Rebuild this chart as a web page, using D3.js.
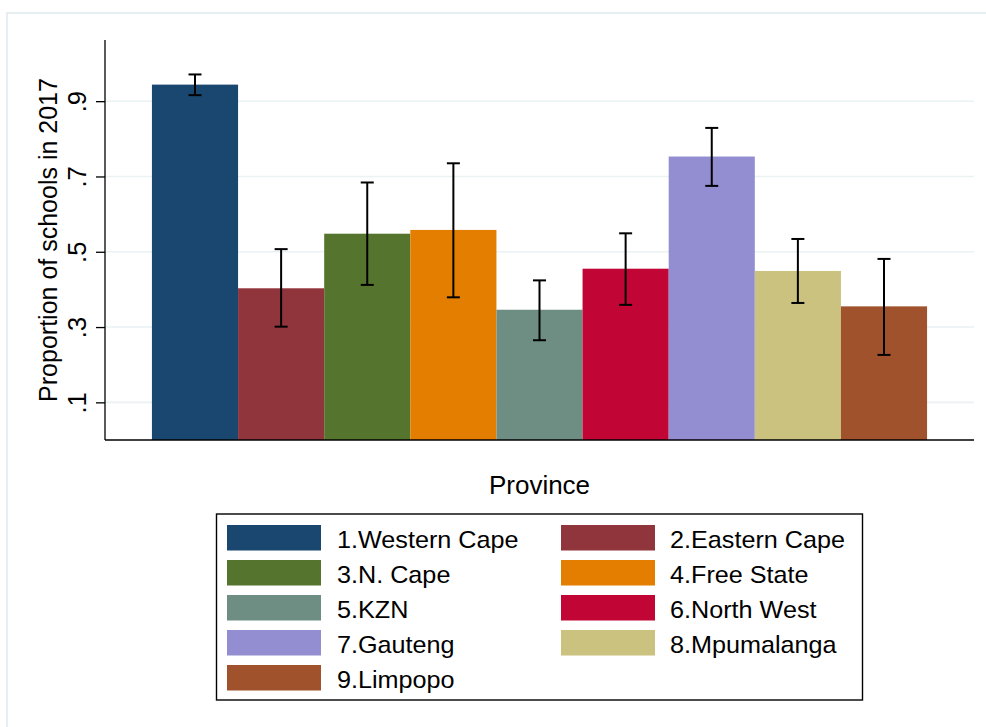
<!DOCTYPE html>
<html>
<head>
<meta charset="utf-8">
<script src="https://cdn.jsdelivr.net/npm/d3@7"></script>
<style>
  html, body { margin: 0; padding: 0; background: #ffffff; }
  svg { display: block; font-family: "Liberation Sans", Arial, sans-serif; }
</style>
</head>
<body>
<svg id="chart" width="986" height="727"></svg>
<script>
// Proportion of schools per province, with confidence intervals
const provinces = ["1.Western Cape", "2.Eastern Cape", "3.N. Cape", "4.Free State", "5.KZN",
                   "6.North West", "7.Gauteng", "8.Mpumalanga", "9.Limpopo"];
const proportions = [0.944, 0.403, 0.548, 0.558, 0.346, 0.455, 0.753, 0.449, 0.355];
const ciLower     = [0.916, 0.301, 0.412, 0.379, 0.265, 0.359, 0.675, 0.364, 0.226];
const ciUpper     = [0.971, 0.507, 0.684, 0.735, 0.424, 0.549, 0.829, 0.534, 0.481];
const barColors   = ["#1A476F", "#90353B", "#55752F", "#E37E00", "#6E8E84",
                     "#C10534", "#938DD2", "#CAC27E", "#A0522D"];
const yTicks      = [0.1, 0.3, 0.5, 0.7, 0.9];
const yTickLabels = [".1", ".3", ".5", ".7", ".9"];

const svg = d3.select("#chart");

// graph region border
svg.append("rect")
  .attr("x", 7).attr("y", 13).attr("width", 1100).attr("height", 900)
  .attr("fill", "#ffffff").attr("stroke", "#E6EEF1").attr("stroke-width", 2);

const plot = { left: 105, right: 974, top: 40, bottom: 440 };

const x = d3.scaleBand()
  .domain(provinces)
  .range([plot.left, plot.right])
  .paddingInner(0)
  .paddingOuter(0.545);

const y = d3.scaleLinear()
  .domain([0, 1.0625])
  .range([plot.bottom, plot.top]);

// gridlines
svg.append("g")
  .selectAll("line")
  .data(yTicks)
  .join("line")
  .attr("x1", plot.left).attr("x2", plot.right)
  .attr("y1", d => y(d)).attr("y2", d => y(d))
  .attr("stroke", "#EAF2F3").attr("stroke-width", 1.6);

const data = provinces.map((p, i) => ({
  name: p, value: proportions[i], lo: ciLower[i], hi: ciUpper[i], color: barColors[i]
}));

// bars
svg.append("g")
  .selectAll("rect")
  .data(data)
  .join("rect")
  .attr("x", d => x(d.name))
  .attr("width", x.bandwidth())
  .attr("y", d => y(d.value))
  .attr("height", d => y(0) - y(d.value))
  .attr("fill", d => d.color);

// confidence intervals
const ci = svg.append("g")
  .attr("stroke", "#000").attr("stroke-width", 2).attr("fill", "none");
const capHalf = 6.5;
data.forEach(d => {
  const cx = x(d.name) + x.bandwidth() / 2;
  ci.append("line").attr("x1", cx).attr("x2", cx).attr("y1", y(d.lo)).attr("y2", y(d.hi));
  ci.append("line").attr("x1", cx - capHalf).attr("x2", cx + capHalf).attr("y1", y(d.hi)).attr("y2", y(d.hi));
  ci.append("line").attr("x1", cx - capHalf).attr("x2", cx + capHalf).attr("y1", y(d.lo)).attr("y2", y(d.lo));
});

// y axis
const yAxis = d3.axisLeft(y)
  .tickValues(yTicks)
  .tickFormat((d, i) => yTickLabels[i])
  .tickSize(9)
  .tickSizeOuter(0);
const yg = svg.append("g")
  .attr("transform", `translate(${plot.left},0)`)
  .call(yAxis);
yg.select(".domain").remove();
yg.selectAll(".tick line").attr("stroke", "#000").attr("stroke-width", 1.3);
yg.selectAll(".tick text")
  .attr("x", null).attr("dy", null)
  .attr("transform", "translate(-19,0) rotate(-90)")
  .attr("text-anchor", "middle")
  .attr("font-size", 25.5)
  .attr("fill", "#000")
  .attr("font-family", "Liberation Sans, Arial, sans-serif");
svg.append("line")
  .attr("x1", plot.left).attr("x2", plot.left)
  .attr("y1", plot.top).attr("y2", plot.bottom)
  .attr("stroke", "#000").attr("stroke-width", 1.3);

// x axis line
svg.append("line")
  .attr("x1", plot.left).attr("x2", plot.right)
  .attr("y1", plot.bottom).attr("y2", plot.bottom)
  .attr("stroke", "#000").attr("stroke-width", 1.3);

// axis titles
svg.append("text")
  .attr("transform", `translate(56.5,${(plot.top + plot.bottom) / 2}) rotate(-90)`)
  .attr("text-anchor", "middle")
  .attr("font-size", 25)
  .attr("fill", "#000")
  .text("Proportion of schools in 2017");

svg.append("text")
  .attr("x", (plot.left + plot.right) / 2)
  .attr("y", 494)
  .attr("text-anchor", "middle")
  .attr("font-size", 26)
  .attr("fill", "#000")
  .text("Province");

// legend
const legend = svg.append("g");
legend.append("rect")
  .attr("x", 216.5).attr("y", 514).attr("width", 646).attr("height", 186)
  .attr("fill", "#fff").attr("stroke", "#000").attr("stroke-width", 1.4);

const colX = [227, 561];
const textX = [337, 670];
data.forEach((d, i) => {
  const col = i % 2, row = Math.floor(i / 2);
  const top = 525 + row * 35;
  legend.append("rect")
    .attr("x", colX[col]).attr("y", top)
    .attr("width", 94).attr("height", 25.5)
    .attr("fill", d.color);
  legend.append("text")
    .attr("x", textX[col]).attr("y", top + 22.7)
    .attr("font-size", 24)
    .attr("fill", "#000")
    .attr("transform", `translate(${textX[col]},0) scale(1.05,1) translate(${-textX[col]},0)`)
    .text(d.name);
});
</script>
</body>
</html>
